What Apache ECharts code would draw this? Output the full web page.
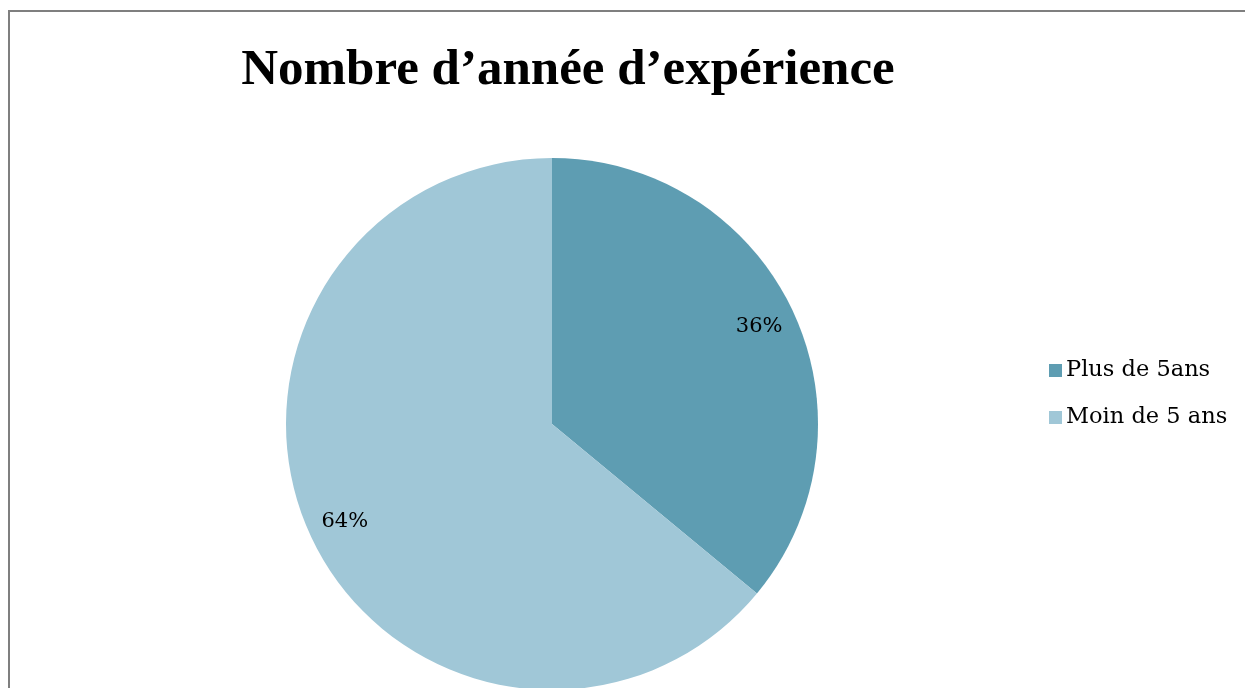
<!DOCTYPE html>
<html><head><meta charset="utf-8">
<script src="https://cdn.jsdelivr.net/npm/echarts@6/dist/echarts.min.js"></script>
<style>html,body{margin:0;padding:0;background:#fff}#c{width:1245px;height:688px}</style>
</head><body><div id="c"></div>
<script>
const titleText = "Nombre d’année d’expérience";
const categories = ["Plus de 5ans", "Moin de 5 ans"];
const values = [36, 64];
const colors = ["#5e9db2", "#a0c7d7"];

const chart = echarts.init(document.getElementById('c'));
const data = categories.map((n, i) => ({ name: n, value: values[i], itemStyle: { color: colors[i] } }));
const titleFont = "'Liberation Serif', serif";
const font = "'DejaVu Serif', serif";
chart.setOption({
  animation: false,
  backgroundColor: '#fff',
  title: { text: titleText, left: 563, textAlign: 'center', top: 40,
    textStyle: { fontFamily: titleFont, fontSize: 51, fontWeight: 'bold', color: '#000' } },
  legend: { orient: 'vertical', left: 1044, top: 354, itemWidth: 13, itemHeight: 13, itemGap: 24,
    icon: 'rect', data: categories,
    textStyle: { fontFamily: font, fontSize: 22.5, color: '#000', padding: [0, 0, 0, -1] } },
  graphic: [{ type: 'rect', shape: { x: 9, y: 11, width: 1400, height: 900 }, silent: true,
    style: { fill: 'none', stroke: '#7f7f7f', lineWidth: 2 } }],
  series: [
    { type: 'pie', center: [552, 424], radius: [0, 266], startAngle: 90, clockwise: true,
      label: { show: false }, labelLine: { show: false }, data: data, silent: true },
    { type: 'pie', center: [552, 424], radius: [188, 264], startAngle: 90, clockwise: true,
      itemStyle: { color: 'transparent' }, silent: true,
      label: { show: true, position: 'inside', formatter: '{d}%', fontFamily: font, fontSize: 21, color: '#000' },
      labelLine: { show: false },
      data: categories.map((n, i) => ({ name: n, value: values[i], itemStyle: { color: 'rgba(0,0,0,0)' } })) }
  ]
});
</script></body></html>
